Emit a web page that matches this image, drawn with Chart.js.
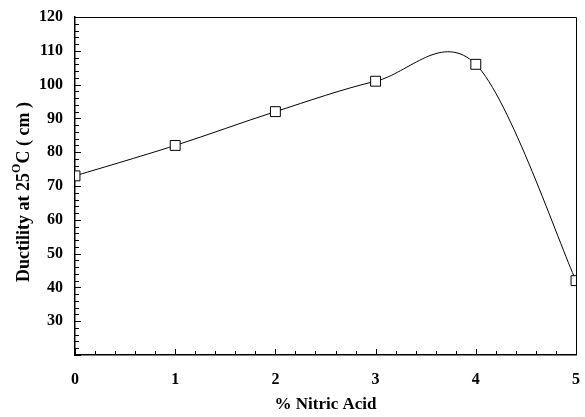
<!DOCTYPE html>
<html>
<head>
<meta charset="utf-8">
<script src="https://cdn.jsdelivr.net/npm/chart.js@4/dist/chart.umd.min.js"></script>
<style>
  html, body { margin: 0; padding: 0; background: #fff; }
  #chart { display: block; }
</style>
</head>
<body>
<canvas id="chart" width="585" height="417"></canvas>
<script>
// datos
const acidoPct = [0, 1, 2, 3, 4, 5];
const ductilidad = [73, 82, 92, 101, 106, 42];
const yMin = 20, yMax = 120;
const xMin = 0, xMax = 5;
const tituloX = '% Nitric Acid';
const tituloY = ['Ductility at 25', 'O', 'C ( cm )'];

const FUENTE = 'Liberation Serif, Times New Roman, serif';

// suavizado tipo Excel (Catmull-Rom) calculado sobre los pixeles de la escala
function suavizar(chart) {
    const meta = chart.getDatasetMeta(0);
    meta.dataset.updateControlPoints(chart.chartArea, 'x');
    const pts = meta.data;
    const n = pts.length;
    for (let i = 0; i < n; i++) {
        const p = pts[i];
        const prev = pts[Math.max(i - 1, 0)];
        const next = pts[Math.min(i + 1, n - 1)];
        const dx = (next.x - prev.x) / 6;
        const dy = (next.y - prev.y) / 6;
        p.cp1x = p.x - dx; p.cp1y = p.y - dy;
        p.cp2x = p.x + dx; p.cp2y = p.y + dy;
    }
}

// marcas hacia dentro + marco superior/derecho + titulo Y con superindice
const marcasPlugin = {
    id: 'marcas',
    beforeDatasetsDraw(chart) {
        suavizar(chart);
        const ctx = chart.ctx;
        const a = chart.chartArea;
        const sx = chart.scales.x, sy = chart.scales.y;
        ctx.save();
        ctx.strokeStyle = '#000';
        ctx.lineWidth = 1;
        ctx.beginPath();
        sy.ticks.forEach(t => {
            const y = Math.round(sy.getPixelForValue(t.value)) + 0.5;
            const mayor = t.value % 10 === 0;
            ctx.moveTo(a.left, y);
            ctx.lineTo(a.left + (mayor ? 6 : 4), y);
        });
        sx.ticks.forEach(t => {
            const x = Math.round(sx.getPixelForValue(t.value)) + 0.5;
            const mayor = Math.abs(t.value - Math.round(t.value)) < 1e-6;
            ctx.moveTo(x, a.bottom);
            ctx.lineTo(x, a.bottom - (mayor ? 6 : 4));
        });
        ctx.stroke();
        // marco
        ctx.beginPath();
        ctx.moveTo(a.left, a.top + 0.5);
        ctx.lineTo(a.right + 0.5, a.top + 0.5);
        ctx.lineTo(a.right + 0.5, a.bottom);
        ctx.stroke();
        ctx.restore();
    },
    afterDraw(chart) {
        const ctx = chart.ctx;
        ctx.save();
        ctx.fillStyle = '#000';
        ctx.textBaseline = 'middle';
        const fGrande = 'bold 18px ' + FUENTE;
        const fSup = 'bold 12px ' + FUENTE;
        ctx.font = fGrande;
        const w1 = ctx.measureText(tituloY[0]).width;
        const w3 = ctx.measureText(tituloY[2]).width;
        ctx.font = fSup;
        const w2 = ctx.measureText(tituloY[1]).width;
        const total = w1 + w2 + w3;
        ctx.translate(24, 192);
        ctx.rotate(-Math.PI / 2);
        let x = -total / 2;
        ctx.textAlign = 'left';
        ctx.font = fGrande;
        ctx.fillText(tituloY[0], x, 0);
        x += w1;
        ctx.font = fSup;
        ctx.fillText(tituloY[1], x, -7);
        x += w2;
        ctx.font = fGrande;
        ctx.fillText(tituloY[2], x, 0);
        ctx.restore();
    }
};

const ctx = document.getElementById('chart').getContext('2d');
new Chart(ctx, {
    type: 'line',
    data: {
        datasets: [{
            data: acidoPct.map((v, i) => ({ x: v, y: ductilidad[i] })),
            borderColor: '#000',
            borderWidth: 1,
            tension: 0.4,
            fill: false,
            pointStyle: 'rect',
            pointRadius: 7,
            pointBackgroundColor: '#fff',
            pointBorderColor: '#000',
            pointBorderWidth: 1
        }]
    },
    options: {
        responsive: false,
        animation: false,
        devicePixelRatio: 1,
        layout: { padding: { top: 17, right: 9, left: 0, bottom: 0 } },
        plugins: {
            legend: { display: false },
            tooltip: { enabled: false }
        },
        scales: {
            x: {
                type: 'linear',
                min: xMin,
                max: xMax,
                grid: { display: false, drawTicks: false },
                border: { display: true, color: '#000', width: 1.5 },
                ticks: {
                    stepSize: 0.2,
                    autoSkip: false,
                    maxRotation: 0,
                    padding: 15,
                    color: '#000',
                    font: { family: FUENTE, size: 16, weight: 'bold' },
                    callback: v => Math.abs(v - Math.round(v)) < 1e-6 ? String(Math.round(v)) : ''
                },
                title: {
                    display: true,
                    text: tituloX,
                    color: '#000',
                    font: { family: FUENTE, size: 17, weight: 'bold' },
                    padding: { top: 0, bottom: 2 }
                },
                afterFit: s => { s.height = 62; s.paddingLeft = 0; s.paddingRight = 0; }
            },
            y: {
                min: yMin,
                max: yMax,
                grid: { display: false, drawTicks: false },
                border: { display: true, color: '#000', width: 1.5 },
                ticks: {
                    stepSize: 2,
                    autoSkip: false,
                    padding: 12,
                    color: '#000',
                    font: { family: FUENTE, size: 16, weight: 'bold' },
                    callback: v => (v % 10 === 0 && v > yMin) ? String(v) : ''
                },
                afterFit: s => { s.width = 75; s.paddingTop = 0; s.paddingBottom = 0; }
            }
        }
    },
    plugins: [marcasPlugin]
});
</script>
</body>
</html>
